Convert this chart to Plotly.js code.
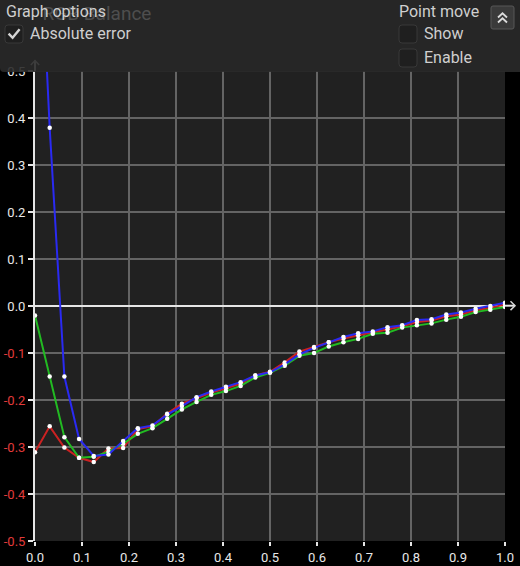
<!DOCTYPE html>
<html>
<head>
<meta charset="utf-8">
<script src="https://cdn.plot.ly/plotly-3.0.1.min.js"></script>
<style>
  html, body { margin: 0; padding: 0; background: #000; }
  #data { width: 520px; height: 566px; }
</style>
</head>
<body>
<div id="data"></div>
<script>
// sample positions along the curve
var xSamples = [0, 0.03125, 0.0625, 0.09375, 0.125, 0.15625, 0.1875, 0.21875,
  0.25, 0.28125, 0.3125, 0.34375, 0.375, 0.40625, 0.4375, 0.46875,
  0.5, 0.53125, 0.5625, 0.59375, 0.625, 0.65625, 0.6875, 0.71875,
  0.75, 0.78125, 0.8125, 0.84375, 0.875, 0.90625, 0.9375, 0.96875, 1];

var redError = [-0.311, -0.256, -0.301, -0.323, -0.332, -0.303, -0.302, -0.262,
  -0.256, -0.229, -0.208, -0.196, -0.184, -0.175, -0.165, -0.148,
  -0.140, -0.120, -0.097, -0.087, -0.077, -0.069, -0.062, -0.056,
  -0.050, -0.043, -0.034, -0.031, -0.022, -0.018, -0.009, -0.004, 0.003];

var greenError = [-0.020, -0.150, -0.279, -0.323, -0.321, -0.310, -0.293, -0.272,
  -0.260, -0.240, -0.220, -0.204, -0.189, -0.181, -0.170, -0.152,
  -0.142, -0.127, -0.106, -0.100, -0.086, -0.077, -0.070, -0.059,
  -0.057, -0.046, -0.041, -0.037, -0.029, -0.023, -0.013, -0.008, -0.002];

var blueError = [1.03, 0.379, -0.150, -0.283, -0.319, -0.316, -0.287, -0.260,
  -0.254, -0.231, -0.213, -0.194, -0.182, -0.172, -0.162, -0.148,
  -0.141, -0.124, -0.103, -0.089, -0.077, -0.066, -0.058, -0.054,
  -0.045, -0.041, -0.030, -0.028, -0.018, -0.014, -0.006, 0.000, 0.007];

var xTickValues = [0, 0.1, 0.2, 0.3, 0.4, 0.5, 0.6, 0.7, 0.8, 0.9, 1.0];
var xTickLabels = ['0.0', '0.1', '0.2', '0.3', '0.4', '0.5', '0.6', '0.7', '0.8', '0.9', '1.0'];
var yTickValues = [-0.5, -0.4, -0.3, -0.2, -0.1, 0, 0.1, 0.2, 0.3, 0.4, 0.5];
var yTickLabels = ['-0.5', '-0.4', '-0.3', '-0.2', '-0.1', '0.0', '0.1', '0.2', '0.3', '0.4', '0.5'];

var plotLeft = 35;
var plotTop = 71;
var plotSize = 470;
var fontFamily = 'Roboto, "Noto Sans", sans-serif';
var panelText = '#cfcfcf';

function paper_x(px) {
  return (px - plotLeft) / plotSize;
}

function paper_y(py) {
  return (plotTop + plotSize - py) / plotSize;
}

function colour_ticks(labels) {
  // negative values are shown in red
  return labels.map(function (label) {
    if (label.charAt(0) === '-') {
      return '<span style="color:#e23b3b">' + label + '</span>';
    }
    return label;
  });
}

function make_trace(values, colour) {
  return {
    x: xSamples,
    y: values,
    type: 'scatter',
    mode: 'lines+markers',
    line: { color: colour, width: 2 },
    marker: { color: '#ffffff', size: 4.5 },
    hoverinfo: 'x+y'
  };
}

function box_path(x0, y0, x1, y1, r) {
  var ax = paper_x(x0), bx = paper_x(x1);
  var ay = paper_y(y0), by = paper_y(y1);
  var rr = r / plotSize;
  return 'M' + (ax + rr) + ',' + ay +
    ' L' + (bx - rr) + ',' + ay + ' Q' + bx + ',' + ay + ' ' + bx + ',' + (ay - rr) +
    ' L' + bx + ',' + (by + rr) + ' Q' + bx + ',' + by + ' ' + (bx - rr) + ',' + by +
    ' L' + (ax + rr) + ',' + by + ' Q' + ax + ',' + by + ' ' + ax + ',' + (by + rr) +
    ' L' + ax + ',' + (ay - rr) + ' Q' + ax + ',' + ay + ' ' + (ax + rr) + ',' + ay + ' Z';
}

function poly_path(points) {
  return points.map(function (p, i) {
    return (i === 0 ? 'M' : 'L') + paper_x(p[0]) + ',' + paper_y(p[1]);
  }).join(' ');
}

function checkbox(x0, y0) {
  return {
    type: 'path', xref: 'paper', yref: 'paper', layer: 'above',
    path: box_path(x0, y0, x0 + 18, y0 + 18, 3),
    fillcolor: '#1f1f1f',
    line: { color: '#383838', width: 1 }
  };
}

function label(text, px, py, size) {
  return {
    text: text, xref: 'paper', yref: 'paper',
    x: paper_x(px), y: paper_y(py),
    xanchor: 'left', yanchor: 'middle',
    showarrow: false,
    font: { family: fontFamily, size: size || 16, color: panelText }
  };
}

var shapes = [
  // axis arrows
  { type: 'line', xref: 'paper', yref: 'paper', layer: 'above',
    x0: 1, x1: paper_x(515), y0: paper_y(305.7), y1: paper_y(305.7),
    line: { color: '#e6e6e6', width: 2 } },
  { type: 'path', xref: 'paper', yref: 'paper', layer: 'above',
    path: poly_path([[510.5, 301.3], [515, 305.7], [510.5, 310.1]]),
    line: { color: '#d6d6d6', width: 1.5 } },
  { type: 'line', xref: 'paper', yref: 'paper', layer: 'above',
    x0: 0, x1: 0, y0: 1, y1: paper_y(60.5),
    line: { color: '#e6e6e6', width: 2 } },
  { type: 'path', xref: 'paper', yref: 'paper', layer: 'above',
    path: poly_path([[30.8, 65], [35, 60.5], [39.2, 65]]),
    line: { color: '#d6d6d6', width: 1.5 } },
  // options panel
  { type: 'path', xref: 'paper', yref: 'paper', layer: 'above',
    path: 'M' + paper_x(0) + ',' + paper_y(0) + ' L' + paper_x(520) + ',' + paper_y(0) +
      ' L' + paper_x(520) + ',' + paper_y(72) + ' L' + paper_x(4) + ',' + paper_y(72) +
      ' Q' + paper_x(0) + ',' + paper_y(72) + ' ' + paper_x(0) + ',' + paper_y(68) + ' Z',
    fillcolor: 'rgba(42, 42, 42, 0.9)',
    line: { width: 0 } },
  checkbox(5, 25),
  checkbox(399, 25),
  checkbox(399, 49),
  { type: 'path', xref: 'paper', yref: 'paper', layer: 'above',
    path: poly_path([[8.6, 33.6], [12.6, 37.8], [19.6, 29.2]]),
    line: { color: '#d4d4d4', width: 2.4 } },
  // collapse button
  { type: 'path', xref: 'paper', yref: 'paper', layer: 'above',
    path: box_path(491, 6, 514, 29, 2),
    fillcolor: '#3a3a3a',
    line: { color: '#575757', width: 1 } },
  { type: 'path', xref: 'paper', yref: 'paper', layer: 'above',
    path: poly_path([[498, 17.5], [502.5, 13.3], [507, 17.5]]),
    line: { color: '#dcdcdc', width: 1.8 } },
  { type: 'path', xref: 'paper', yref: 'paper', layer: 'above',
    path: poly_path([[498, 22.5], [502.5, 18.3], [507, 22.5]]),
    line: { color: '#dcdcdc', width: 1.8 } }
];

var annotations = [
  label('Graph options', 4, 11),
  label('Absolute error', 28, 33.5),
  label('Point move', 397, 11),
  label('Show', 422, 33.5),
  label('Enable', 422, 57.5)
];

var layout = {
  width: 520,
  height: 566,
  showlegend: false,
  margin: { l: plotLeft, r: 15, t: plotTop, b: 25, pad: 0 },
  paper_bgcolor: '#000000',
  plot_bgcolor: '#212121',
  font: { family: fontFamily, color: '#e8e8e8', size: 13 },
  title: {
    text: 'RGB Balance',
    xref: 'container', yref: 'container',
    x: 97 / 520, xanchor: 'center',
    y: 1 - 13 / 566, yanchor: 'middle',
    font: { family: fontFamily, size: 19, color: '#4e4e4e' }
  },
  xaxis: {
    range: [0, 1],
    fixedrange: true,
    tickmode: 'array',
    tickvals: xTickValues,
    ticktext: xTickLabels,
    ticks: 'outside',
    ticklen: 4,
    tickwidth: 1.5,
    tickcolor: '#e6e6e6',
    showgrid: true,
    gridcolor: '#646464',
    gridwidth: 1.5,
    zeroline: false,
    showline: false,
    tickfont: { family: fontFamily, size: 13, color: '#e8e8e8' }
  },
  yaxis: {
    range: [-0.5, 0.5],
    fixedrange: true,
    tickmode: 'array',
    tickvals: yTickValues,
    ticktext: colour_ticks(yTickLabels),
    ticks: 'outside',
    ticklen: 5,
    tickwidth: 1.5,
    tickcolor: '#e6e6e6',
    showgrid: true,
    gridcolor: '#646464',
    gridwidth: 1.5,
    zeroline: true,
    zerolinecolor: '#e6e6e6',
    zerolinewidth: 2,
    showline: true,
    linecolor: '#e6e6e6',
    linewidth: 2,
    tickfont: { family: fontFamily, size: 13, color: '#e8e8e8' }
  },
  shapes: shapes,
  annotations: annotations
};

var config = {
  responsive: false,
  displayModeBar: false,
  staticPlot: false
};

var traces = [
  make_trace(redError, '#cc2222'),
  make_trace(greenError, '#22bb22'),
  make_trace(blueError, '#2a2af2')
];

Plotly.newPlot('data', traces, layout, config);
</script>
</body>
</html>
